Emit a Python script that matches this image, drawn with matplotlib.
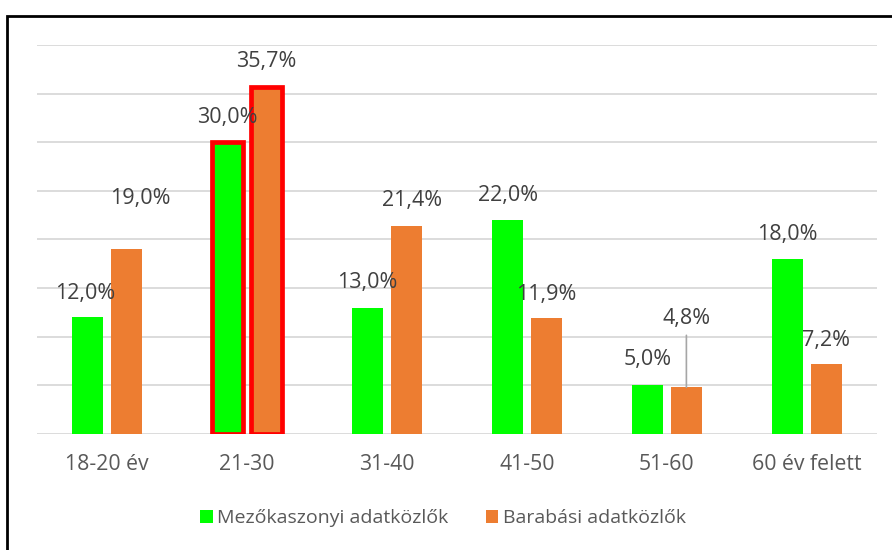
import matplotlib.pyplot as plt
import matplotlib.patches as patches
import numpy as np

plt.rcParams['font.family'] = ['Open Sans', 'DejaVu Sans']

# adatok
categories = ['18-20 év', '21-30', '31-40', '41-50', '51-60', '60 év felett']
mezokaszony = [12.0, 30.0, 13.0, 22.0, 5.0, 18.0]
barabas = [19.0, 35.7, 21.4, 11.9, 4.8, 7.2]
series_names = ['Mezőkaszonyi adatközlők', 'Barabási adatközlők']

green = '#00FF00'
orange = '#ED7D31'
text_col = '#595959'

fig = plt.figure(figsize=(8.92, 5.5), dpi=100)
ax = fig.add_axes([37 / 892, 1 - 434 / 550, 840 / 892, 389 / 550])

x = np.arange(len(categories))
w = 0.22
gap = 0.057
off = (w + gap) / 2

b1 = ax.bar(x - off, mezokaszony, w, color=green, zorder=3, label=series_names[0])
b2 = ax.bar(x + off, barabas, w, color=orange, zorder=3, label=series_names[1])

# kiemelt oszlopok (21-30)
for b in (b1[1], b2[1]):
    b.set_edgecolor('#FF0000')
    b.set_linewidth(3.4)

ax.set_ylim(0, 40)
ax.set_xlim(-0.5, len(categories) - 0.5)
ax.set_yticks(np.arange(0, 41, 5))
ax.yaxis.grid(True, color='#D9D9D9', linewidth=1.3, zorder=0)
ax.set_axisbelow(True)
ax.tick_params(axis='y', left=False, labelleft=False)
ax.tick_params(axis='x', bottom=False, pad=11, labelsize=15.3, labelcolor=text_col)
ax.set_xticks(x)
ax.set_xticklabels(categories)
for s in ax.spines.values():
    s.set_visible(False)

# címkék eltolása (pixel)
lab_off1 = [(-2, 24), (0, 25), (0, 25), (0, 25), (0, 26), (0, 24)]
lab_off2 = [(14, 51), (0, 25), (6, 25), (0, 24), (0, 69), (0, 23)]

for bars, vals, offs in ((b1, mezokaszony, lab_off1), (b2, barabas, lab_off2)):
    for b, v, (dx, dy) in zip(bars, vals, offs):
        cx = b.get_x() + b.get_width() / 2
        ax.annotate(f'{v:.1f}'.replace('.', ',') + '%', (cx, v),
                    xytext=(dx, dy), textcoords='offset pixels',
                    ha='center', va='center', fontsize=15.5, color='#404040', zorder=5)

# vezetővonal a 4,8% címkéhez
b = b2[4]
cx = b.get_x() + b.get_width() / 2
ax.annotate('', (cx, barabas[4]), xytext=(0, 52), textcoords='offset pixels',
            arrowprops=dict(arrowstyle='-', color='#A6A6A6', lw=1.2, shrinkA=0, shrinkB=0))

leg = fig.legend(handles=[b1, b2], labels=series_names, loc='center',
                 bbox_to_anchor=(443 / 892, 1 - 518 / 550), ncol=2, frameon=False,
                 fontsize=14, handlelength=0.65, handleheight=0.65, handletextpad=0.25,
                 columnspacing=1.9)
for t in leg.get_texts():
    t.set_color(text_col)
for h in leg.legend_handles:
    h.set_edgecolor('none')
    h.set_linewidth(0)

# keret
frame = patches.Rectangle((7 / 892, -0.1), 1.2, 1 - 16 / 550 + 0.1, transform=fig.transFigure,
                          fill=False, edgecolor='black', linewidth=2, zorder=10)
fig.patches.append(frame)

plt.savefig('out.png', dpi=100)
